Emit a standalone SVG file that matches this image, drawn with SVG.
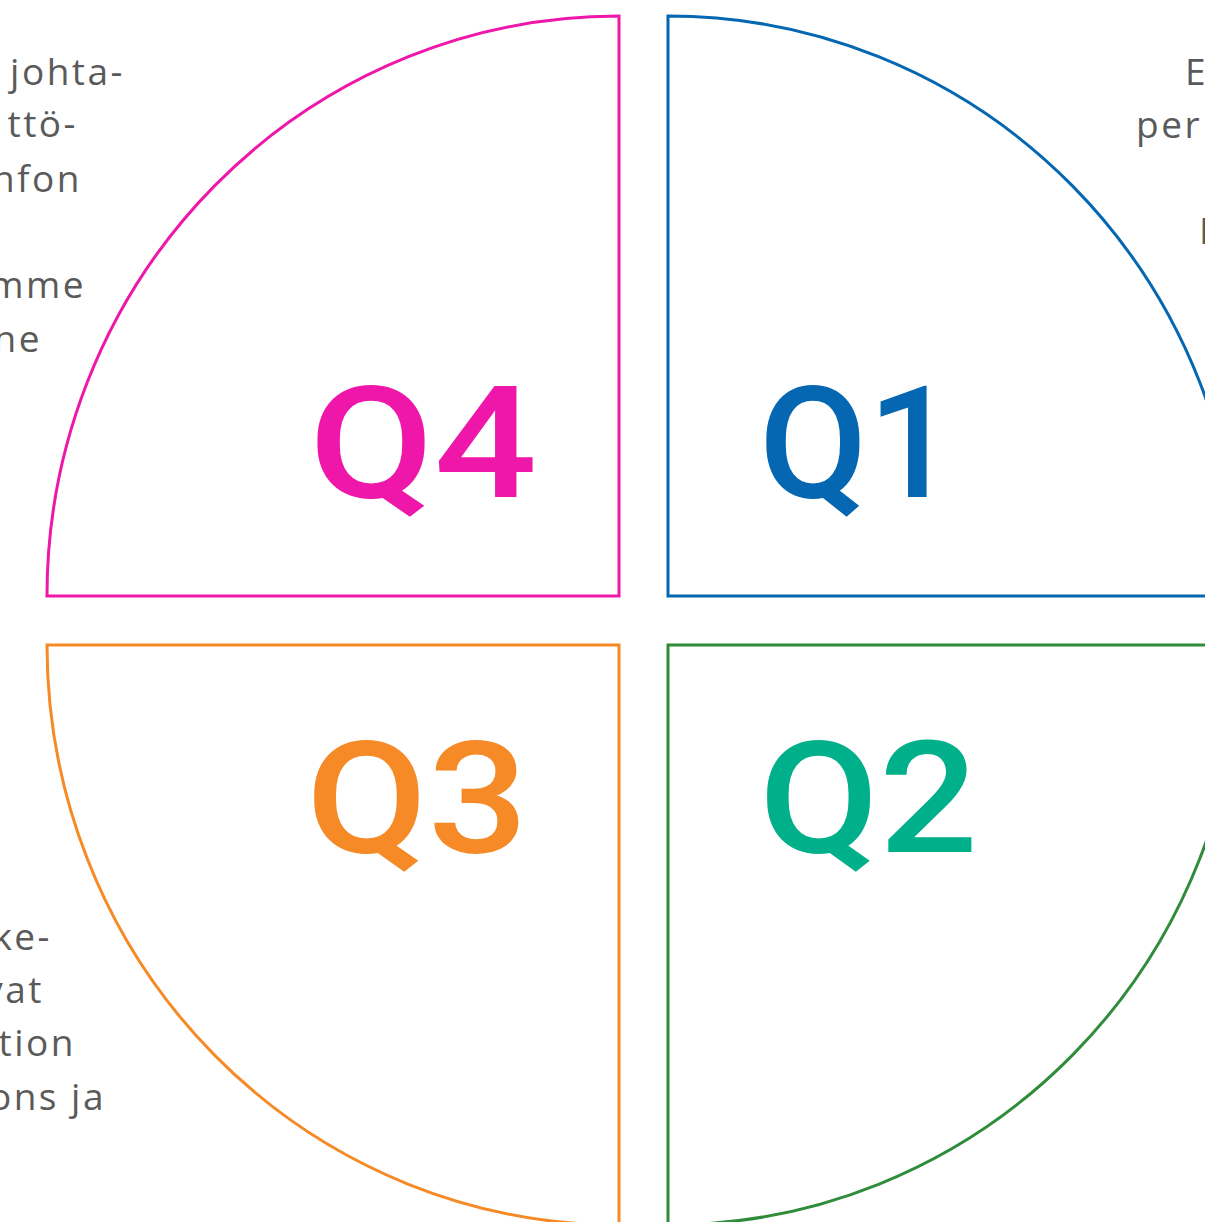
<svg xmlns="http://www.w3.org/2000/svg" width="1205" height="1222" viewBox="0 0 1205 1222">
  <style>
    .q { fill: none; stroke-width: 3; stroke-linejoin: miter; }
    .lbl { font-family: Roboto, "Liberation Sans", sans-serif; font-weight: 500; font-size: 156px; }
    .body { font-family: "Open Sans", "Liberation Sans", sans-serif; font-weight: 400; font-size: 37px; fill: #5a5a5a; letter-spacing: 2.5px; }
  </style>
  <rect width="1205" height="1222" fill="#ffffff"/>
  <g id="text-left-top" class="body" text-anchor="end">
    <text x="125" y="85">johta-</text>
    <text x="78" y="137">ttö-</text>
    <text x="82" y="192">nfon</text>
    <text x="86" y="298">mme</text>
    <text x="42" y="352">ne</text>
  </g>
  <g id="text-left-bottom" class="body" text-anchor="end">
    <text x="52" y="950">ke-</text>
    <text x="44" y="1003">vat</text>
    <text x="76" y="1056">tion</text>
    <text x="106" y="1110">ons ja</text>
  </g>
  <g id="text-right" class="body">
    <text x="1185" y="85">E</text>
    <text x="1136" y="138">per</text>
    <text x="1199" y="244">I</text>
  </g>
  <g id="Q4">
    <path class="q" stroke="#ee17a9" d="M619,596 L619,16 A572,580 0 0 0 47,596 Z"/>
    <text class="lbl" fill="#ee17a9" x="309" y="497" textLength="228" lengthAdjust="spacingAndGlyphs">Q4</text>
  </g>
  <g id="Q1">
    <path class="q" stroke="#0567b1" d="M668,596 L668,16 A572,580 0 0 1 1240,596 Z"/>
    <text class="lbl" fill="#0567b1" x="759" y="497" textLength="198" lengthAdjust="spacingAndGlyphs">Q1</text>
  </g>
  <g id="Q3">
    <path class="q" stroke="#f58a27" d="M619,645 L47,645 A572,580 0 0 0 619,1225 Z"/>
    <text class="lbl" fill="#f58a27" x="306" y="852" textLength="222" lengthAdjust="spacingAndGlyphs">Q3</text>
  </g>
  <g id="Q2">
    <path class="q" stroke="#2f8c3b" d="M668,645 L1240,645 A572,580 0 0 1 668,1225 Z"/>
    <text class="lbl" fill="#00b08a" x="759" y="852" textLength="219" lengthAdjust="spacingAndGlyphs">Q2</text>
  </g>
  <g id="connectors"/>
</svg>
